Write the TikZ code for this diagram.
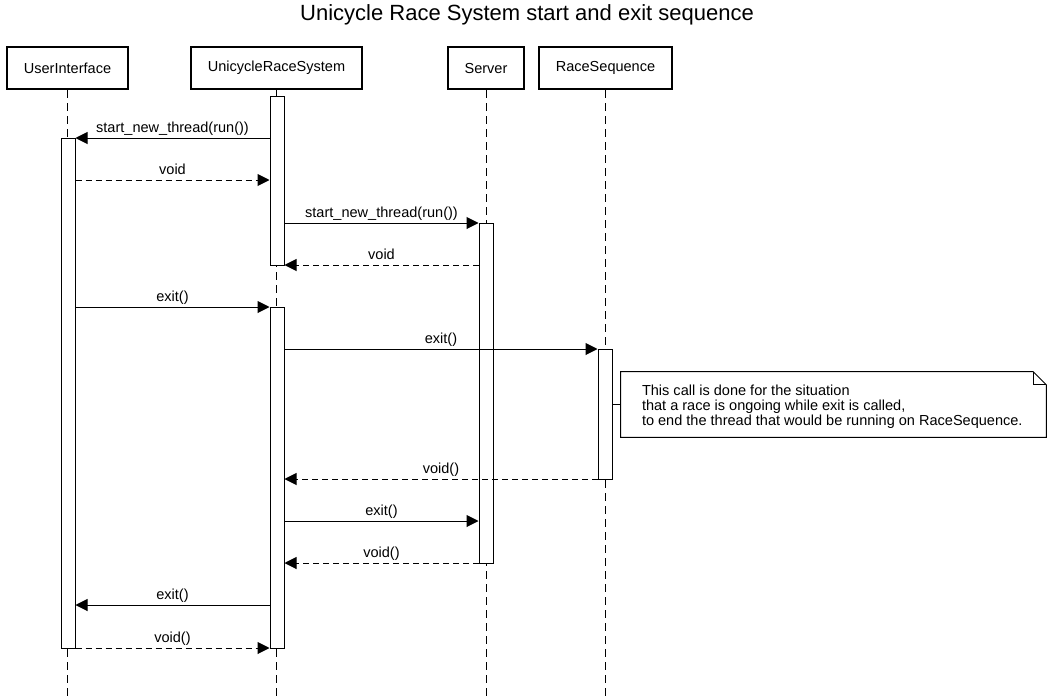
\documentclass[tikz,border=0pt]{standalone}
\usepackage{fontspec}
\setmainfont{Liberation Sans}
\usetikzlibrary{arrows.meta,fit}
\tikzstyle{participant} = [draw=black, fill=white, line width=1.6pt,
    rectangle, minimum height=31.5pt, inner sep=0pt, font=\fontsize{10.9}{12}\selectfont]
\tikzstyle{lifeline} = [draw=black, line width=0.75pt, dash pattern=on 6pt off 3.75pt]
\tikzstyle{activation} = [draw=black, fill=white, line width=0.75pt, rectangle, inner sep=0pt]
\tikzstyle{call} = [draw=black, line width=0.75pt, -{Triangle[length=9pt,width=9pt]}]
\tikzstyle{reply} = [call, dash pattern=on 4.5pt off 3pt]
\tikzstyle{msglabel} = [anchor=base, yshift=4.5pt, inner sep=0pt, font=\fontsize{10.9}{12}\selectfont]
\tikzstyle{notebox} = [rectangle, minimum width=318.75pt, minimum height=48.75pt, inner sep=0pt]
\tikzstyle{notetext} = [anchor=west, inner sep=0pt, align=left, font=\fontsize{10.9}{11.25}\selectfont]

\begin{document}
\begin{tikzpicture}[x=0.75pt, y=-0.75pt]
                \useasboundingbox (0,0) rectangle (1054,700);
                \node[font=\fontsize{16.5}{18}\selectfont] (title) at (527,15) {Unicycle Race System start and exit sequence};
                % participants
                \node[participant, minimum width=90.75pt] (ui) at (67.5,68) {UserInterface};
                \node[participant, minimum width=128.25pt] (urs) at (276.5,68) {UnicycleRaceSystem};
                \node[participant, minimum width=57pt] (srv) at (486,68) {Server};
                \node[participant, minimum width=99.75pt] (rs) at (605.5,68) {RaceSequence};
                % lifelines
                \draw[lifeline] (ui.south) -- (ui.south |- 0,700);
                \draw[lifeline] (urs.south) -- (urs.south |- 0,700);
                \draw[lifeline] (srv.south) -- (srv.south |- 0,700);
                \draw[lifeline] (rs.south) -- (rs.south |- 0,700);
                % activations
                \node[activation, fit={(270,96)(284,265)}] (ursA) {};
                \node[activation, fit={(61,138)(75,648)}] (uiA) {};
                \node[activation, fit={(479,223)(493,563)}] (srvA) {};
                \node[activation, fit={(270,307)(284,648)}] (ursB) {};
                \node[activation, fit={(598,349)(612,479)}] (rsA) {};
                % messages
                \draw[call] (ursA.west |- 0,138) -- node[msglabel] {start\_new\_thread(run())} (uiA.east |- 0,138);
                \draw[reply] (uiA.east |- 0,180) -- node[msglabel] {void} (ursA.west |- 0,180);
                \draw[call] (ursA.east |- 0,223) -- node[msglabel] {start\_new\_thread(run())} (srvA.west |- 0,223);
                \draw[reply] (srvA.west |- 0,265) -- node[msglabel] {void} (ursA.east |- 0,265);
                \draw[call] (uiA.east |- 0,307) -- node[msglabel] {exit()} (ursB.west |- 0,307);
                \draw[call] (ursB.east |- 0,349) -- node[msglabel] {exit()} (rsA.west |- 0,349);
                \draw[reply] (rsA.west |- 0,479) -- node[msglabel] {void()} (ursB.east |- 0,479);
                \draw[call] (ursB.east |- 0,521) -- node[msglabel] {exit()} (srvA.west |- 0,521);
                \draw[reply] (srvA.west |- 0,563) -- node[msglabel] {void()} (ursB.east |- 0,563);
                \draw[call] (ursB.west |- 0,605) -- node[msglabel] {exit()} (uiA.east |- 0,605);
                \draw[reply] (uiA.east |- 0,648) -- node[msglabel] {void()} (ursB.west |- 0,648);
                % note
                \node[notebox] (note) at (833.5,404.5) {};
                \node[notetext] (notetxt) at ([xshift=15.75pt, yshift=-1.5pt]note.west) {This call is done for the situation\\
                    that a race is ongoing while exit is called,\\
                    to end the thread that would be running on RaceSequence.};
                \draw[line width=0.75pt] (note.south west) -- (note.north west) -- ([xshift=-9.75pt]note.north east)
                    -- ([yshift=-9.75pt]note.north east) -- (note.south east) -- cycle;
                \draw[line width=0.75pt] ([xshift=-9.75pt]note.north east) |- ([yshift=-9.75pt]note.north east);
                \draw[line width=0.75pt] (rsA.east |- note.west) -- (note.west);
            \end{tikzpicture}
\end{document}
